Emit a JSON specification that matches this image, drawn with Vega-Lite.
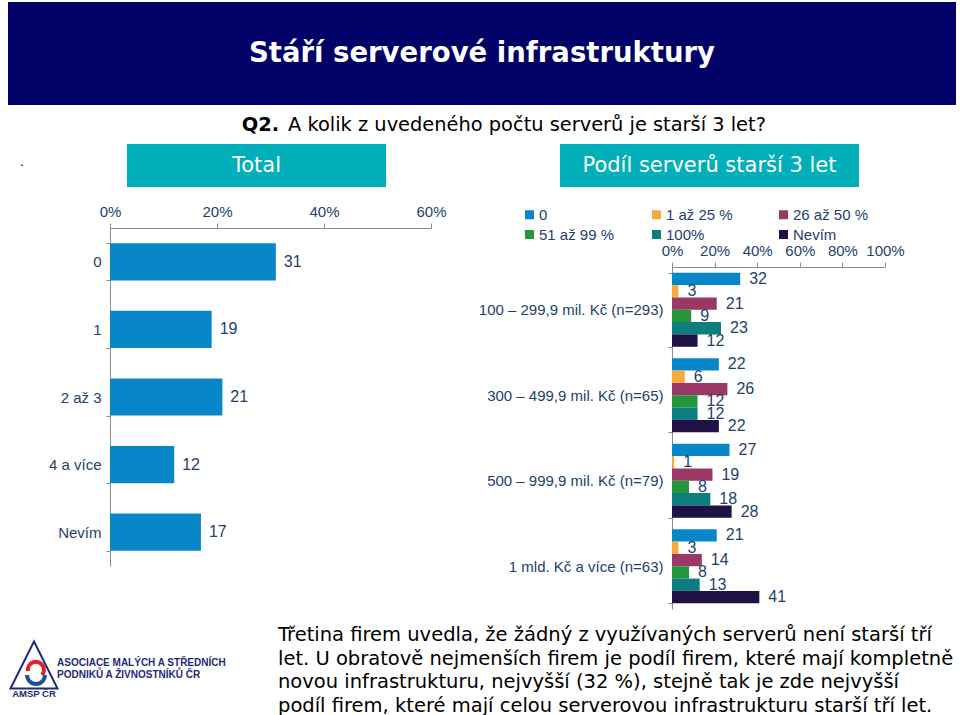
{
  "$schema": "https://vega.github.io/schema/vega-lite/v6.json",
  "background": "white",
  "padding": {"left": 6, "top": 2, "right": 0, "bottom": 0},
  "config": {
    "view": {"stroke": null},
    "font": "Liberation Sans",
    "axis": {"domainColor": "#8c8c8c", "tickColor": "#8c8c8c", "labelColor": "#233f6e", "labelFont": "Liberation Sans", "labelFontSize": 15, "grid": false, "labelOverlap": false, "labelFlush": false}
  },
  "spacing": 16,
  "resolve": {"scale": {"color": "independent"}, "legend": {"color": "independent"}},
  "vconcat": [
    {
      "spacing": 0,
      "vconcat": [
        {
          "width": 948, "height": 103,
          "view": {"fill": "#000066", "stroke": null},
          "data": {"values": [{"t": "Stáří serverové infrastruktury"}]},
          "mark": {"type": "text", "font": "DejaVu Sans", "fontWeight": "bold", "fontSize": 27.5, "color": "white", "baseline": "middle"},
          "encoding": {"text": {"field": "t"}}
        },
        {
          "width": 948, "height": 39,
          "data": {"values": [{"a": "Q2.", "b": "A kolik z uvedeného počtu serverů je starší 3 let?"}]},
          "layer": [
            {"mark": {"type": "text", "font": "DejaVu Sans", "fontSize": 19.4, "fontWeight": "bold", "align": "right", "dx": -203, "baseline": "middle", "color": "#000000"}, "encoding": {"text": {"field": "a"}}},
            {"mark": {"type": "text", "font": "DejaVu Sans", "fontSize": 19.4, "align": "left", "dx": -194, "baseline": "middle", "color": "#000000"}, "encoding": {"text": {"field": "b"}}}
          ]
        },
        {
          "spacing": 91,
          "hconcat": [
            {
              "width": 28, "height": 43,
              "data": {"values": [{"t": "."}]},
              "mark": {"type": "text", "fontSize": 14, "color": "#000066", "baseline": "alphabetic"},
              "encoding": {"text": {"field": "t"}}
            },
            {
              "spacing": 174,
              "hconcat": [
                {
                  "width": 259, "height": 43,
                  "view": {"fill": "#00AFB9", "stroke": null},
                  "data": {"values": [{"t": "Total"}]},
                  "mark": {"type": "text", "font": "DejaVu Sans", "fontSize": 21, "color": "white", "baseline": "middle"},
                  "encoding": {"text": {"field": "t"}}
                },
                {
                  "width": 299, "height": 43,
                  "view": {"fill": "#00AFB9", "stroke": null},
                  "data": {"values": [{"t": "Podíl serverů starší 3 let"}]},
                  "mark": {"type": "text", "font": "DejaVu Sans", "fontSize": 21, "color": "white", "baseline": "middle"},
                  "encoding": {"text": {"field": "t"}}
                }
              ]
            }
          ]
        }
      ]
    },
    {
      "spacing": 27,
      "resolve": {"scale": {"color": "independent"}, "legend": {"color": "independent"}},
      "hconcat": [
        {
          "width": 13, "height": 338,
          "data": {"values": []},
          "mark": {"type": "text"},
          "encoding": {}
        },
        {
          "width": 321, "height": 338,
          "data": {"values": [
            {"kat": "0", "pct": 31},
            {"kat": "1", "pct": 19},
            {"kat": "2 až 3", "pct": 21},
            {"kat": "4 a více", "pct": 12},
            {"kat": "Nevím", "pct": 17}
          ]},
          "encoding": {
            "y": {"field": "kat", "type": "nominal", "sort": null, "title": null,
                  "scale": {"paddingInner": 0.45, "paddingOuter": 0.225},
                  "axis": {"tickBand": "extent", "tickSize": 4, "labelPadding": 5, "minExtent": 62, "labelLimit": 250}},
            "x": {"field": "pct", "type": "quantitative", "title": null,
                  "scale": {"domain": [0, 60], "nice": false},
                  "axis": {"orient": "top", "values": [0, 20, 40, 60], "labelExpr": "datum.value + '%'", "tickSize": 5, "labelPadding": 4}}
          },
          "layer": [
            {"mark": {"type": "bar", "color": "#0787C8"}},
            {"mark": {"type": "text", "align": "left", "baseline": "middle", "dx": 8, "fontSize": 16, "color": "#233f6e"}, "encoding": {"text": {"field": "pct"}}}
          ]
        },
        {
          "width": 213, "height": 381,
          "data": {"values": [
            {"grp": "100 – 299,9 mil. Kč (n=293)", "kat": "0", "pct": 32},
            {"grp": "100 – 299,9 mil. Kč (n=293)", "kat": "1 až 25 %", "pct": 3},
            {"grp": "100 – 299,9 mil. Kč (n=293)", "kat": "26 až 50 %", "pct": 21},
            {"grp": "100 – 299,9 mil. Kč (n=293)", "kat": "51 až 99 %", "pct": 9},
            {"grp": "100 – 299,9 mil. Kč (n=293)", "kat": "100%", "pct": 23},
            {"grp": "100 – 299,9 mil. Kč (n=293)", "kat": "Nevím", "pct": 12},
            {"grp": "300 – 499,9 mil. Kč (n=65)", "kat": "0", "pct": 22},
            {"grp": "300 – 499,9 mil. Kč (n=65)", "kat": "1 až 25 %", "pct": 6},
            {"grp": "300 – 499,9 mil. Kč (n=65)", "kat": "26 až 50 %", "pct": 26},
            {"grp": "300 – 499,9 mil. Kč (n=65)", "kat": "51 až 99 %", "pct": 12},
            {"grp": "300 – 499,9 mil. Kč (n=65)", "kat": "100%", "pct": 12},
            {"grp": "300 – 499,9 mil. Kč (n=65)", "kat": "Nevím", "pct": 22},
            {"grp": "500 – 999,9 mil. Kč (n=79)", "kat": "0", "pct": 27},
            {"grp": "500 – 999,9 mil. Kč (n=79)", "kat": "1 až 25 %", "pct": 1},
            {"grp": "500 – 999,9 mil. Kč (n=79)", "kat": "26 až 50 %", "pct": 19},
            {"grp": "500 – 999,9 mil. Kč (n=79)", "kat": "51 až 99 %", "pct": 8},
            {"grp": "500 – 999,9 mil. Kč (n=79)", "kat": "100%", "pct": 18},
            {"grp": "500 – 999,9 mil. Kč (n=79)", "kat": "Nevím", "pct": 28},
            {"grp": "1 mld. Kč a více (n=63)", "kat": "0", "pct": 21},
            {"grp": "1 mld. Kč a více (n=63)", "kat": "1 až 25 %", "pct": 3},
            {"grp": "1 mld. Kč a více (n=63)", "kat": "26 až 50 %", "pct": 14},
            {"grp": "1 mld. Kč a více (n=63)", "kat": "51 až 99 %", "pct": 8},
            {"grp": "1 mld. Kč a více (n=63)", "kat": "100%", "pct": 13},
            {"grp": "1 mld. Kč a více (n=63)", "kat": "Nevím", "pct": 41}
          ]},
          "encoding": {
            "y": {"field": "grp", "type": "nominal", "sort": null, "title": null,
                  "scale": {"paddingInner": 0.134, "paddingOuter": 0.067, "range": [39, 381]},
                  "axis": {"tickBand": "extent", "tickSize": 4, "labelPadding": 5, "minExtent": 198, "labelLimit": 250}},
            "yOffset": {"field": "kat", "type": "nominal",
                        "sort": ["0", "1 až 25 %", "26 až 50 %", "51 až 99 %", "100%", "Nevím"],
                        "scale": {"paddingInner": 0, "paddingOuter": 0}},
            "x": {"field": "pct", "type": "quantitative", "title": null,
                  "scale": {"domain": [0, 100], "nice": false},
                  "axis": {"orient": "top", "offset": -39, "values": [0, 20, 40, 60, 80, 100], "labelExpr": "datum.value + '%'", "tickSize": 5, "labelPadding": 4}},
            "color": {"field": "kat", "type": "nominal",
                      "sort": ["0", "1 až 25 %", "26 až 50 %", "51 až 99 %", "100%", "Nevím"],
                      "scale": {"domain": ["0", "1 až 25 %", "26 až 50 %", "51 až 99 %", "100%", "Nevím"],
                                "range": ["#0787C8", "#F7A940", "#9C3866", "#24963B", "#0C7E7F", "#1F1045"]},
                      "legend": {"orient": "none", "legendX": -154, "legendY": -25, "direction": "horizontal", "columns": 3, "title": null,
                                 "symbolType": "square", "symbolSize": 81, "symbolStrokeWidth": 0,
                                 "labelFontSize": 15, "labelColor": "#233f6e", "labelFont": "Liberation Sans", "labelOffset": 2,
                                 "columnPadding": 34, "rowPadding": 4, "gridAlign": "all", "padding": 4}}
          },
          "layer": [
            {"mark": {"type": "bar"}},
            {"mark": {"type": "text", "align": "left", "baseline": "middle", "dx": 9, "fontSize": 16}, "encoding": {"text": {"field": "pct"}, "color": {"value": "#233f6e"}}}
          ]
        }
      ]
    },
    {
      "spacing": 30,
      "hconcat": [
        {
          "width": 240, "height": 88,
          "data": {"values": [{"org": "ASOCIACE MALÝCH A STŘEDNÍCH\nPODNIKŮ A ŽIVNOSTNÍKŮ ČR", "abbr": "AMSP ČR"}]},
          "layer": [
            {"mark": {"type": "point", "shape": "M0,-1L1,1L-1,1Z", "size": 2209, "filled": true, "fill": "white", "stroke": "#1F2A78", "strokeWidth": 2, "opacity": 1, "xOffset": -94, "yOffset": -5}},
            {"mark": {"type": "point", "shape": "M-0.8,0.1A0.8,0.8 0 1,1 0.6,0.5", "size": 400, "filled": false, "stroke": "#E2202A", "strokeWidth": 4, "opacity": 1, "xOffset": -92, "yOffset": 0}},
            {"mark": {"type": "point", "shape": "M-0.8,0.1A0.8,0.8 0 0,0 0.8,0.1", "size": 500, "filled": false, "stroke": "#1C4FA0", "strokeWidth": 4, "opacity": 1, "xOffset": -92, "yOffset": 4}},
            {"mark": {"type": "text", "align": "left", "baseline": "middle", "dx": -71, "dy": -7.5, "fontSize": 10, "fontWeight": "bold", "font": "Liberation Sans", "color": "#1F2A78", "lineHeight": 12, "lineBreak": "\n"}, "encoding": {"text": {"field": "org"}}},
            {"mark": {"type": "text", "align": "center", "baseline": "middle", "dx": -94, "dy": 24, "fontSize": 9.5, "fontWeight": "bold", "font": "Liberation Sans", "color": "#1F2A78"}, "encoding": {"text": {"field": "abbr"}}}
          ]
        },
        {
          "width": 680, "height": 88,
          "data": {"values": [{"t": "Třetina firem uvedla, že žádný z využívaných serverů není starší tří\nlet. U obratově nejmenších firem je podíl firem, které mají kompletně\nnovou infrastrukturu, nejvyšší (32 %), stejně tak je zde nejvyšší\npodíl firem, které mají celou serverovou infrastrukturu starší tří let."}]},
          "mark": {"type": "text", "align": "left", "baseline": "middle", "dx": -340, "dy": -35, "font": "DejaVu Sans", "fontSize": 19.5, "lineHeight": 23.5, "lineBreak": "\n", "color": "#000000"},
          "encoding": {"text": {"field": "t"}}
        }
      ]
    }
  ]
}
